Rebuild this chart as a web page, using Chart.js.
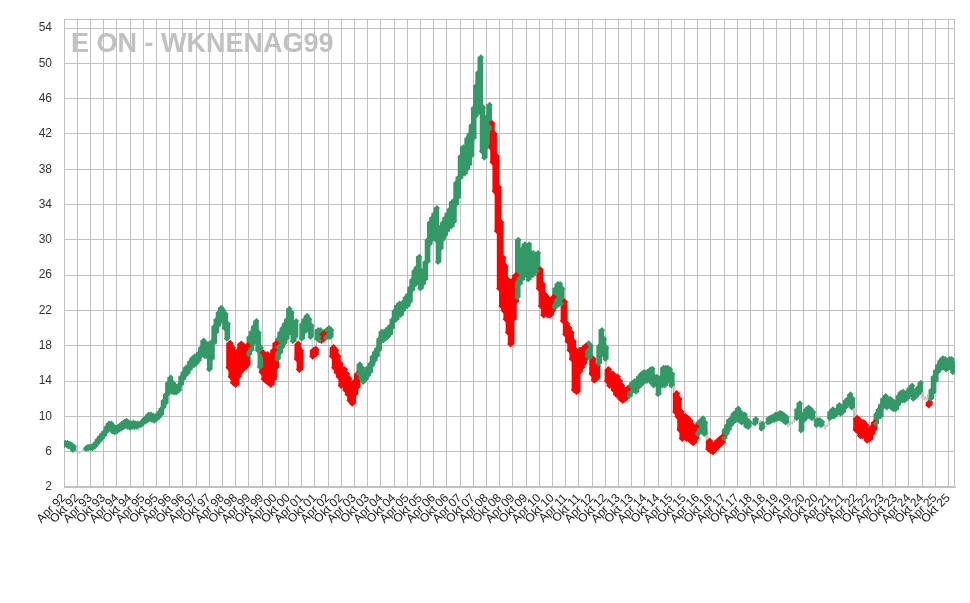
<!DOCTYPE html>
<html><head><meta charset="utf-8">
<script src="https://cdn.jsdelivr.net/npm/chart.js@4"></script>
<style>
html,body{margin:0;padding:0;background:#fff;}
#wrap{position:relative;width:970px;height:603px;}
#title{position:absolute;left:71px;top:30px;font:bold 27px "Liberation Sans",Arial,sans-serif;line-height:27px;color:#C0C0C0;white-space:nowrap;}
</style></head><body>
<div id="wrap"><canvas id="c" width="970" height="603"></canvas><div id="title">E ON - WKNENAG99</div></div>
<script>
const startYear = 1992.25; // April 1992
const tickLabels = [
"Apr 92","Okt 92","Apr 93","Okt 93","Apr 94","Okt 94","Apr 95","Okt 95","Apr 96","Okt 96",
"Apr 97","Okt 97","Apr 98","Okt 98","Apr 99","Okt 99","Apr 00","Okt 00","Apr 01","Okt 01",
"Apr 02","Okt 02","Apr 03","Okt 03","Apr 04","Okt 04","Apr 05","Okt 05","Apr 06","Okt 06",
"Apr 07","Okt 07","Apr 08","Okt 08","Apr 09","Okt 09","Apr 10","Okt 10","Apr 11","Okt 11",
"Apr 12","Okt 12","Apr 13","Okt 13","Apr 14","Okt 14","Apr 15","Okt 15","Apr 16","Okt 16",
"Apr 17","Okt 17","Apr 18","Okt 18","Apr 19","Okt 19","Apr 20","Okt 20","Apr 21","Okt 21",
"Apr 22","Okt 22","Apr 23","Okt 23","Apr 24","Okt 24","Apr 25","Okt 25"];
const yTicks = [2,6,10,14,18,22,26,30,34,38,42,46,50,54];

// monthly low / high readings, Apr 1992 .. Dec 2025
const lows = [
6.7,6.8,6.6,6.5,6.2,6.0,5.8,5.8,6.0,
6.1,6.3,6.4,6.4,6.4,6.6,6.9,7.2,7.5,7.8,8.2,8.6,
8.6,8.3,8.2,8.3,8.5,8.6,8.8,8.9,8.8,8.7,8.8,8.8,
8.8,8.4,9.0,9.3,9.4,9.6,9.7,9.6,9.5,9.7,9.9,10.2,
11.0,11.5,12.5,13.2,12.8,12.7,12.7,12.9,13.6,14.2,14.6,14.9,
15.3,15.8,15.8,16.0,16.3,16.8,17.3,16.8,16.8,15.3,16.5,18.3,
19.5,20.3,21.0,20.8,20.0,18.8,15.5,14.5,13.8,13.6,14.5,15.0,
15.4,15.5,15.8,17.0,17.5,18.3,18.8,17.5,15.6,15.0,14.2,14.0,
13.8,13.6,14.2,15.5,16.5,17.2,17.8,18.3,18.8,19.5,19.5,18.5,
19.0,16.5,15.3,18.8,19.5,20.0,19.8,19.0,16.8,17.0,18.8,18.6,
18.6,18.8,18.9,19.0,19.0,16.8,15.5,15.0,14.5,13.5,13.8,13.0,
12.5,11.8,11.5,12.5,13.3,14.8,14.3,13.9,14.2,14.6,15.0,15.8,
16.3,16.8,17.5,18.6,18.6,18.8,19.0,19.3,20.0,20.8,21.0,21.5,
21.5,22.0,22.4,22.5,23.0,24.3,24.8,25.0,25.5,24.5,25.0,25.5,
27.5,29.5,30.0,30.5,30.0,27.5,29.0,30.0,30.5,31.0,31.5,31.5,
32.0,34.0,34.8,37.0,37.5,37.5,38.0,38.5,39.5,41.5,44.0,45.5,
44.5,40.0,39.3,40.5,42.5,40.5,38.8,35.5,31.0,24.5,22.5,22.0,
21.0,19.5,18.2,21.0,23.0,23.5,25.0,25.5,26.5,26.0,25.5,26.0,
26.0,26.5,26.5,24.5,22.5,21.5,22.0,21.5,21.5,22.0,22.4,22.5,
23.0,22.8,20.8,19.3,18.5,17.5,16.5,13.0,12.8,15.0,15.5,16.0,
16.5,16.8,16.7,14.8,14.1,14.3,16.0,17.5,17.0,16.5,14.0,13.5,
13.5,13.0,12.5,12.3,12.0,11.8,12.0,12.3,12.3,12.8,13.0,12.8,
13.3,13.5,13.8,14.0,14.0,14.2,13.8,13.5,13.8,12.5,13.5,13.5,
13.5,14.0,14.0,13.5,12.5,10.5,10.0,8.5,7.5,7.8,7.5,7.5,
7.2,7.0,7.5,8.0,8.5,8.3,8.0,7.0,6.3,6.1,6.0,6.3,
6.6,6.8,7.0,7.5,8.0,8.5,9.0,9.3,9.5,9.8,9.5,9.3,
9.4,8.9,8.8,8.8,9.0,9.2,9.3,9.0,8.6,8.5,8.8,9.3,
9.4,9.6,9.6,9.7,9.8,9.7,9.5,9.3,8.8,8.9,9.1,9.3,
9.8,10.3,8.4,9.5,9.8,10.0,10.0,9.8,9.2,9.0,9.2,9.0,
8.8,8.5,8.8,9.8,10.0,10.0,10.2,10.5,10.3,10.5,11.0,11.3,
11.5,11.0,9.5,8.5,8.3,7.8,7.8,7.8,7.3,7.4,8.0,8.5,
9.2,10.0,10.0,11.0,11.5,11.0,11.2,11.0,10.8,10.8,11.3,11.8,
11.8,11.8,12.0,12.3,12.5,12.0,12.2,12.5,12.8,12.0,11.8,11.8,
11.3,12.0,12.7,14.0,15.0,15.3,15.5,15.5,15.3,15.5,15.5,15.0];
const highs = [
7.0,7.0,6.9,6.8,6.6,6.3,6.1,6.0,6.2,
6.3,6.5,6.6,6.6,6.7,7.0,7.4,7.7,8.0,8.3,8.8,9.2,
9.2,8.9,8.7,8.8,9.0,9.2,9.4,9.5,9.3,9.2,9.3,9.2,
9.2,8.9,9.4,9.7,9.9,10.2,10.2,10.1,10.0,10.2,10.5,10.9,
11.8,12.5,13.8,14.4,13.8,13.5,13.3,13.6,14.5,15.0,15.5,15.7,
16.2,16.6,16.8,16.9,17.2,17.8,18.6,18.3,18.2,17.8,18.5,20.2,
21.0,21.8,22.3,22.0,21.6,20.5,18.3,17.8,17.0,16.5,17.5,18.2,
18.0,17.6,18.0,19.0,19.6,20.2,20.8,19.5,17.8,17.2,16.8,17.0,
16.5,16.8,17.5,18.3,18.8,19.5,20.0,20.5,21.0,22.2,21.8,20.5,
20.8,18.2,17.5,20.5,21.0,21.4,21.0,20.3,17.5,17.6,19.8,19.8,
19.3,19.5,19.8,20.0,19.8,17.8,17.5,16.8,16.0,15.3,15.3,14.8,
14.3,13.5,13.2,14.0,14.8,15.9,15.5,15.0,15.3,15.6,16.0,16.8,
17.3,17.7,18.8,19.6,19.5,19.8,20.0,20.3,21.0,22.0,22.5,22.8,
22.5,23.0,23.5,23.8,24.6,25.5,26.5,26.9,28.1,26.5,26.5,27.5,
30.0,32.0,32.5,33.0,33.6,30.5,31.5,32.0,32.5,33.0,33.5,34.3,
34.5,36.5,37.1,39.5,40.5,40.0,41.5,42.0,43.0,45.0,47.5,49.0,
50.7,45.0,43.5,44.0,45.3,43.2,42.0,39.5,36.0,32.0,28.0,27.0,
25.5,23.5,22.0,25.5,26.0,30.0,28.5,29.0,29.5,28.5,29.5,28.5,
28.5,28.0,28.5,26.6,25.0,23.8,23.5,23.0,23.0,23.5,24.5,25.0,
25.0,24.5,23.0,20.5,20.0,19.5,18.5,17.5,16.0,17.5,17.5,17.8,
18.0,18.3,18.0,16.5,15.3,15.7,18.0,19.8,18.8,17.8,15.3,14.8,
14.8,14.3,14.5,14.0,13.5,13.0,13.0,13.2,13.5,13.8,14.0,13.8,
14.5,14.8,15.0,15.0,15.0,15.3,15.4,14.5,14.5,14.0,14.5,15.5,
15.5,15.5,15.3,14.8,14.0,12.6,12.0,10.5,10.0,10.0,9.8,9.5,
9.0,8.5,8.8,9.3,9.5,9.8,9.3,8.5,7.2,6.8,6.6,7.0,
7.3,7.5,7.7,8.5,9.0,9.6,9.8,10.3,10.5,10.9,10.5,10.2,
10.2,9.6,9.4,9.3,9.5,9.7,9.8,9.6,9.2,9.0,9.3,9.8,
9.9,10.0,10.2,10.2,10.4,10.3,10.1,9.9,9.5,9.4,9.6,9.8,
10.8,11.5,10.2,10.3,10.8,11.0,10.8,10.5,9.8,9.6,9.6,9.4,
9.4,9.0,9.5,10.5,10.8,10.6,10.8,11.3,11.0,11.2,11.8,12.0,
12.5,12.0,11.0,9.8,9.6,9.3,9.3,9.0,8.3,8.5,8.8,9.3,
10.3,10.8,11.3,12.0,12.3,12.0,12.0,11.8,11.6,11.5,12.3,12.7,
12.8,12.5,12.8,13.2,13.5,12.8,13.0,13.3,13.8,12.8,12.3,12.5,
11.6,13.0,14.5,15.2,15.8,16.3,16.6,16.5,16.3,16.5,16.5,16.0];
// trend per month: g = up (green), r = down (red), - = no marker
const trend = [
"ggggg----","-ggggggggggg","gggggggggggg","g-gggggggggg","gggggggggggg","gggggggggggg",
"ggggggrrrrrr","rrrggggggrrr","rrrrgggggggg","grrgggggrrgg","rrgggrrrrrrr","rrrrrggggggg",
"gggggggggggg","gggggggggggg","gggggggggggg","gggggggggggg","gggggrrrrrrr","rrrrrggggggg",
"gggrrrrrrrgg","ggrrrrrrrrrr","rggrrrggggrr","rrrrrrrrgggg","gggggggggggg","gggg-rrrrrrr",
"rrrgggg-rrrr","rrrggggggggg","ggg--g--g--g","gggggggg----","gggggggg-ggg","---ggggggggg",
"gg-rrrrrrrrr","gggggggggggg","ggggggggg---","rggggggggggg"].join('');

const GREEN = '#339966', RED = '#FF0000';
const lineData = [], gBars = [], rBars = [], gPts = [], rPts = [];
lows.forEach((lo, i) => {
  const hi = highs[i], t = startYear + i / 12;
  lineData.push({x: t, y: lo}, {x: t + 1/24, y: hi});
  const c = trend[i];
  if (c === 'g') { gBars.push({x: t + 1/48, y: [lo, hi]}); gPts.push({x: t, y: lo}, {x: t + 1/24, y: hi}); }
  else if (c === 'r') { rBars.push({x: t + 1/48, y: [lo, hi]}); rPts.push({x: t, y: lo}, {x: t + 1/24, y: hi}); }
});

const frame = {
  id: 'frame',
  beforeDatasetsDraw(chart) {
    const a = chart.chartArea, c = chart.ctx;
    c.save(); c.strokeStyle = '#C0C0C0'; c.lineWidth = 1;
    c.strokeRect(Math.round(a.left) + 0.5, Math.round(a.top) + 0.5, Math.round(a.right - a.left) - 1, Math.round(a.bottom - a.top) - 1);
    c.restore();
  }
};
const font = {family: '"Liberation Sans", Arial, sans-serif', size: 12};

new Chart(document.getElementById('c'), {
  type: 'line',
  data: {datasets: [
    {type: 'line', data: lineData, borderColor: '#BDBDBD', borderWidth: 1, pointRadius: 0, tension: 0, order: 3},
    {type: 'bar', data: gBars, backgroundColor: GREEN, barThickness: 5, grouped: false, order: 2},
    {type: 'bar', data: rBars, backgroundColor: RED, barThickness: 6, grouped: false, order: 2},
    {type: 'line', data: gPts, showLine: false, pointStyle: 'rectRot', pointRadius: 3, pointBackgroundColor: GREEN, pointBorderWidth: 0, order: 1},
    {type: 'line', data: rPts, showLine: false, pointStyle: 'rectRot', pointRadius: 3.5, pointBackgroundColor: RED, pointBorderWidth: 0, order: 1}
  ]},
  options: {
    responsive: false, animation: false, devicePixelRatio: 1,
    layout: {padding: {top: 19, right: 15, left: 0, bottom: 0}},
    plugins: {legend: {display: false}, tooltip: {enabled: false}, title: {display: false}},
    scales: {
      x: {
        type: 'linear', min: startYear, max: 2026, offset: false,
        grid: {color: '#C0C0C0', drawTicks: false, offset: false},
        border: {color: '#C0C0C0'},
        afterBuildTicks: s => { s.ticks = tickLabels.map((l, i) => ({value: startYear + i * 0.5})); },
        afterFit: s => { s.height = 116; },
        ticks: {autoSkip: false, minRotation: 45, maxRotation: 45, padding: 4, color: '#222', font,
                callback: (v, i) => tickLabels[i]}
      },
      y: {
        min: 2, max: 55,
        afterBuildTicks: s => { s.ticks = yTicks.map(v => ({value: v})); },
        afterFit: s => { s.width = 64; },
        grid: {color: '#C0C0C0', drawTicks: false},
        border: {color: '#C0C0C0'},
        ticks: {padding: 12, color: '#333', font}
      }
    }
  },
  plugins: [frame]
});
</script>
</body></html>
